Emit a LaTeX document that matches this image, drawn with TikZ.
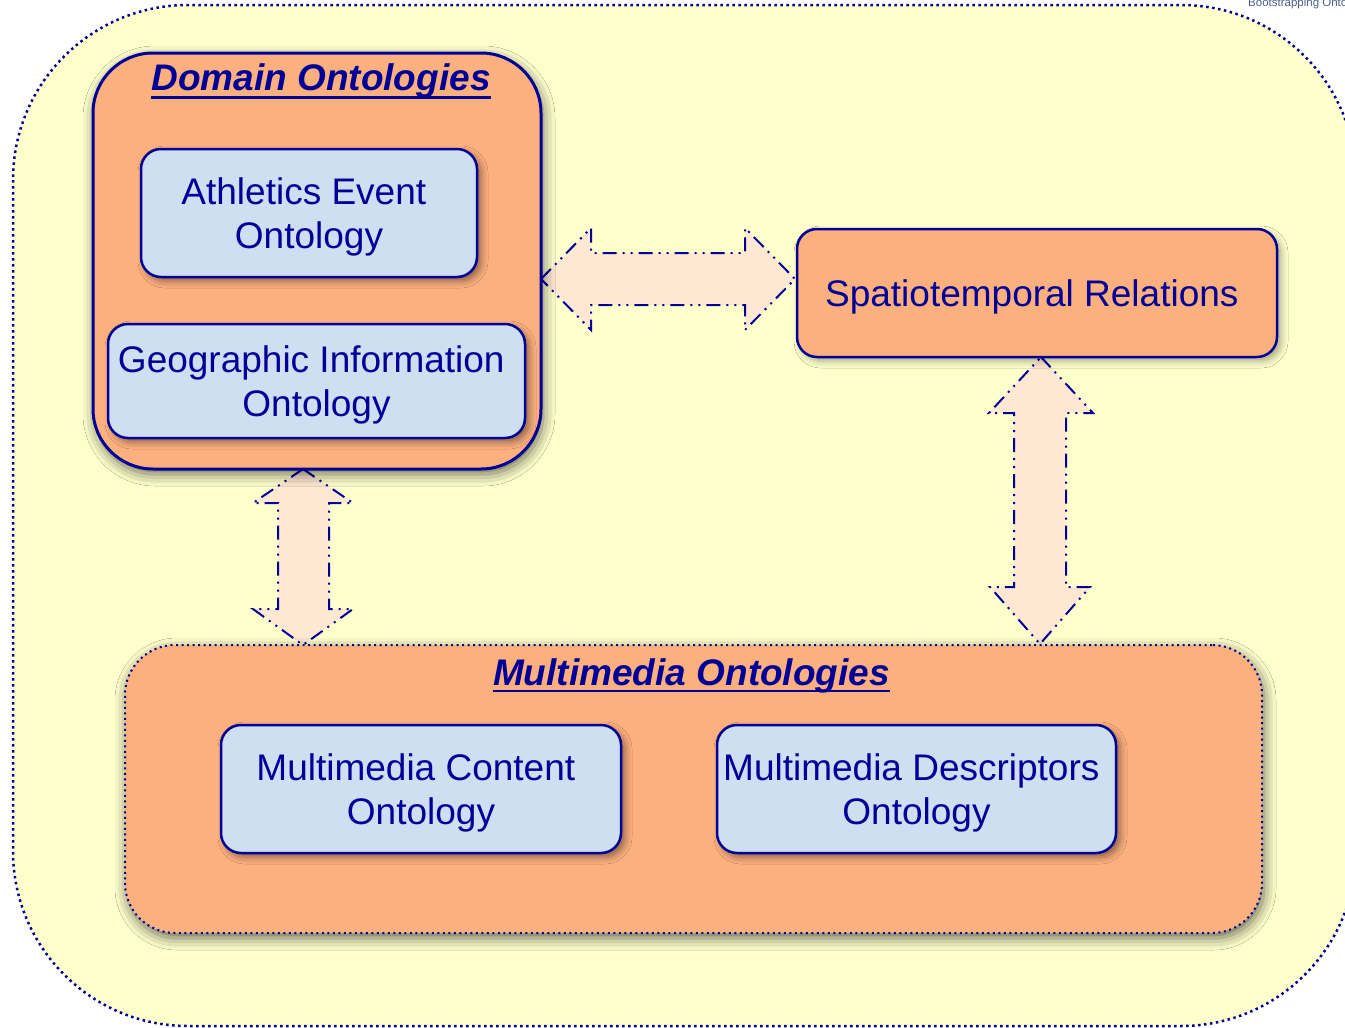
\documentclass[tikz,border=0pt]{standalone}
\usepackage{fontspec}
\setmainfont{Liberation Sans}
\usetikzlibrary{calc,shadows.blur}
\definecolor{navy}{RGB}{0,0,153}
\definecolor{paleyellow}{RGB}{255,255,204}
\definecolor{peach}{RGB}{252,176,126}
\definecolor{paleblue}{RGB}{207,222,240}
\definecolor{cream}{RGB}{255,232,210}
\definecolor{headergray}{RGB}{75,95,140}
% trailing blank kept at the end of a line
\newcommand\trail{\hbox to 0.28em{}}

\begin{document}
\begin{tikzpicture}[x=1pt,y=-1pt,
  bigfont/.style={font=\fontsize{37}{44}\selectfont},
  titlefont/.style={font=\fontsize{37}{44}\selectfont\bfseries\itshape, text=navy, inner sep=0pt},
  groupbox/.style={draw=navy, fill=peach, line width=3pt,
    blur shadow={shadow xshift=2pt, shadow yshift=-5pt, shadow blur radius=12pt, shadow opacity=60}},
  ontobox/.style={draw=navy, fill=paleblue, line width=2.5pt, rounded corners=20pt,
    blur shadow={shadow xshift=4pt, shadow yshift=-4pt, shadow blur radius=7pt, shadow opacity=45}},
  relbox/.style={draw=navy, fill=peach, line width=2.5pt, rounded corners=20pt,
    blur shadow={shadow xshift=4pt, shadow yshift=-4pt, shadow blur radius=7pt, shadow opacity=35}},
  boxtext/.style={bigfont, text=navy, align=center, inner sep=0pt},
  linkarrow/.style={fill=cream, draw=navy, line width=2pt,
    dash pattern=on 14pt off 6pt on 2pt off 6pt on 2pt off 6pt},
  underbar/.style={draw=navy, line width=2.5pt}
]
\useasboundingbox (0,0) rectangle (1345,1028);

% background panel
\draw[fill=paleyellow, draw=navy, line width=2.5pt, dash pattern=on 2.5pt off 3.5pt,
      rounded corners=175pt] (13,5) rectangle (1356,1026);
\node[anchor=base west, text=headergray, inner sep=0pt,
      font=\fontsize{11.5}{13}\selectfont] (header) at (1248,6) {Bootstrapping Ontologies};

% anchor points of the link arrows
\coordinate (hL) at (541,279);
\coordinate (hR) at (795,279);
\coordinate (vT) at (303,469);
\coordinate (vB) at (303,645);
\coordinate (wT) at (1041,357);
\coordinate (wB) at (1040,644);

% link arrows
\draw[linkarrow] (hL) -- ($(hL)+(50,-51)$) -- ($(hL)+(50,-26)$) -- ($(hR)+(-50,-26)$)
  -- ($(hR)+(-50,-51)$) -- (hR) -- ($(hR)+(-50,51)$) -- ($(hR)+(-50,26)$)
  -- ($(hL)+(50,26)$) -- ($(hL)+(50,51)$) -- cycle;
\draw[linkarrow] (vT) -- ($(vT)+(50,34)$) -- ($(vT)+(26,34)$) -- ($(vB)+(26,-36)$)
  -- ($(vB)+(50,-36)$) -- (vB) -- ($(vB)+(-50,-36)$) -- ($(vB)+(-25,-36)$)
  -- ($(vT)+(-25,34)$) -- ($(vT)+(-50,34)$) -- cycle;
\draw[linkarrow] (wT) -- ($(wT)+(52,56)$) -- ($(wT)+(25,56)$) -- ($(wB)+(26,-57)$)
  -- ($(wB)+(50,-57)$) -- (wB) -- ($(wB)+(-50,-57)$) -- ($(wB)+(-26,-57)$)
  -- ($(wT)+(-27,56)$) -- ($(wT)+(-52,56)$) -- cycle;

% domain ontologies group
\node[groupbox, rounded corners=60pt, minimum width=448pt, minimum height=416pt] (dom) at (317,261) {};
\node[titlefont, anchor=base] (domtitle) at ($(dom.north)+(4,39)$) {Domain Ontologies};
\draw[underbar] ([yshift=-7pt]domtitle.base west) -- ([yshift=-7pt]domtitle.base east);
\node[ontobox, minimum width=336pt, minimum height=128pt] (ath) at (309,213) {};
\node[boxtext] (athtext) at ([yshift=-4pt]ath.center) {Athletics Event\trail\\Ontology};
\node[ontobox, minimum width=417pt, minimum height=114pt] (geo) at (316.5,381) {};
\node[boxtext] (geotext) at ([yshift=-4pt]geo.center) {Geographic Information\trail\\Ontology};

% spatiotemporal relations
\node[relbox, minimum width=480pt, minimum height=128pt] (spt) at (1037,293) {};
\node[boxtext] (spttext) at ([yshift=-4pt]spt.center) {Spatiotemporal Relations\trail};

% multimedia ontologies group
\node[groupbox, line width=2pt, dash pattern=on 2pt off 3.5pt, rounded corners=50pt,
      minimum width=1137pt, minimum height=288pt] (mm) at (693.5,789) {};
\node[titlefont, anchor=base] (mmtitle) at ($(mm.north)+(-2,41)$) {Multimedia Ontologies};
\draw[underbar] ([yshift=-6pt]mmtitle.base west) -- ([yshift=-6pt]mmtitle.base east);
\node[ontobox, minimum width=400pt, minimum height=128pt] (mmc) at (421,789) {};
\node[boxtext] (mmctext) at ([yshift=-4pt]mmc.center) {Multimedia Content\trail\\Ontology};
\node[ontobox, minimum width=399pt, minimum height=128pt] (mmd) at (916.5,789) {};
\node[boxtext] (mmdtext) at ([yshift=-4pt]mmd.center) {Multimedia Descriptors\trail\\Ontology};
\end{tikzpicture}
\end{document}
